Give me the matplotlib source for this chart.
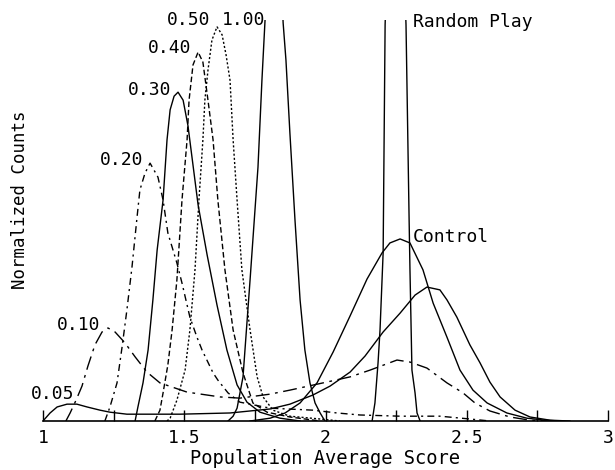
import matplotlib
matplotlib.use("Agg")
import matplotlib.pyplot as plt

# ---- data ----
x_005 = [1.000, 1.025, 1.050, 1.085, 1.120, 1.156, 1.202, 1.237, 1.297, 1.485, 1.662, 1.804, 1.874, 1.956,
         2.016, 2.087, 2.140, 2.204, 2.264, 2.317, 2.359, 2.405, 2.430, 2.465, 2.511, 2.547, 2.582, 2.618,
         2.671, 2.724, 2.795, 2.865]
y_005 = [0, 0.020, 0.035, 0.042, 0.042, 0.035, 0.027, 0.022, 0.017, 0.017, 0.020, 0.030, 0.042, 0.065,
         0.087, 0.122, 0.162, 0.222, 0.269, 0.314, 0.334, 0.327, 0.302, 0.259, 0.190, 0.145, 0.097, 0.060,
         0.027, 0.010, 0.002, 0]

x_010 = [1.081, 1.096, 1.117, 1.138, 1.159, 1.184, 1.209, 1.230, 1.255, 1.290, 1.326, 1.368, 1.414, 1.510,
         1.627, 1.697, 1.804, 1.874, 1.991, 2.087, 2.158, 2.253, 2.299, 2.359, 2.430, 2.487, 2.529, 2.582,
         2.653, 2.724, 2.795]
y_010 = [0, 0.020, 0.052, 0.087, 0.137, 0.190, 0.222, 0.232, 0.222, 0.195, 0.160, 0.122, 0.095, 0.072,
         0.060, 0.057, 0.067, 0.077, 0.095, 0.110, 0.127, 0.152, 0.147, 0.132, 0.095, 0.070, 0.045, 0.025,
         0.010, 0.002, 0]

x_020 = [1.219, 1.237, 1.262, 1.280, 1.297, 1.315, 1.333, 1.343, 1.361, 1.379, 1.407, 1.425, 1.442, 1.474,
         1.492, 1.520, 1.545, 1.563, 1.602, 1.619, 1.655, 1.697, 1.804, 1.956, 2.041, 2.122, 2.264, 2.405,
         2.511, 2.582]
y_020 = [0, 0.035, 0.095, 0.185, 0.277, 0.384, 0.509, 0.576, 0.618, 0.643, 0.608, 0.551, 0.469, 0.394,
         0.344, 0.259, 0.209, 0.177, 0.120, 0.102, 0.070, 0.047, 0.032, 0.027, 0.020, 0.015, 0.012, 0.012,
         0.005, 0]

x_030 = [1.326, 1.336, 1.354, 1.372, 1.389, 1.404, 1.425, 1.439, 1.450, 1.464, 1.478, 1.496, 1.513, 1.531,
         1.549, 1.581, 1.616, 1.651, 1.687, 1.722, 1.768, 1.839, 1.910]
y_030 = [0, 0.035, 0.095, 0.177, 0.302, 0.426, 0.551, 0.701, 0.776, 0.810, 0.820, 0.800, 0.737, 0.638,
         0.539, 0.414, 0.289, 0.177, 0.090, 0.047, 0.022, 0.007, 0]

x_040 = [1.396, 1.414, 1.425, 1.442, 1.457, 1.474, 1.492, 1.510, 1.517, 1.531, 1.549, 1.566, 1.584, 1.602,
         1.619, 1.644, 1.673, 1.708, 1.743, 1.793, 1.874, 1.980]
y_040 = [0, 0.027, 0.070, 0.140, 0.227, 0.352, 0.551, 0.701, 0.800, 0.888, 0.920, 0.895, 0.800, 0.701,
         0.551, 0.377, 0.227, 0.120, 0.045, 0.022, 0.010, 0]

x_050 = [1.439, 1.450, 1.474, 1.503, 1.520, 1.538, 1.552, 1.566, 1.573, 1.584, 1.598, 1.616, 1.634, 1.648,
         1.662, 1.673, 1.687, 1.704, 1.733, 1.758, 1.779, 1.814, 1.874, 1.980, 2.051]
y_050 = [0, 0.007, 0.052, 0.127, 0.227, 0.377, 0.551, 0.701, 0.800, 0.875, 0.950, 0.983, 0.963, 0.913,
         0.850, 0.701, 0.551, 0.377, 0.227, 0.110, 0.060, 0.027, 0.012, 0.005, 0]

x_100 = [1.655, 1.673, 1.687, 1.708, 1.733, 1.761, 1.775, 1.786, 1.818, 1.850, 1.860, 1.874, 1.892, 1.910,
         1.927, 1.945, 1.963, 1.981, 1.998]
y_100 = [0, 0.012, 0.032, 0.110, 0.352, 0.633, 0.850, 1.000, 1.55, 0.993, 0.900, 0.718, 0.501, 0.302,
         0.177, 0.095, 0.045, 0.020, 0]

x_random = [2.165, 2.175, 2.186, 2.193, 2.204, 2.211, 2.246, 2.285, 2.296, 2.299, 2.306, 2.317, 2.324, 2.335]
y_random = [0, 0.045, 0.145, 0.227, 0.419, 0.988, 1.75, 0.988, 0.501, 0.377, 0.127, 0.070, 0.020, 0]

x_control = [1.733, 1.804, 1.857, 1.910, 1.970, 2.027, 2.087, 2.147, 2.200, 2.228, 2.264, 2.299, 2.345,
             2.381, 2.430, 2.476, 2.522, 2.572, 2.642, 2.713, 2.777, 2.830]
y_control = [0, 0.007, 0.020, 0.045, 0.095, 0.172, 0.262, 0.354, 0.419, 0.444, 0.454, 0.444, 0.377,
             0.294, 0.209, 0.127, 0.077, 0.045, 0.020, 0.007, 0.002, 0]

curve_labels = ["0.05", "0.10", "0.20", "0.30", "0.40", "0.50", "1.00", "Random Play", "Control"]
label_x = [0.958, 1.050, 1.202, 1.301, 1.372, 1.439, 1.634, 2.310, 2.310]
label_y = [0.067, 0.239, 0.651, 0.825, 0.930, 1.000, 1.000, 0.995, 0.459]

xtick_pos = [1.0, 1.25, 1.5, 1.75, 2.0, 2.25, 2.5, 2.75, 3.0]
xtick_labels = ["1", "", "1.5", "", "2", "", "2.5", "", "3"]

# ---- figure ----
mono = "DejaVu Sans Mono"
fig = plt.figure(figsize=(6.15, 4.70), dpi=100)
ax = fig.add_axes([43 / 615, 49 / 470, 565 / 615, 401 / 470])

lw = 1.0
ax.plot(x_005, y_005, color="black", lw=lw, ls="-")
ax.plot(x_010, y_010, color="black", lw=lw, ls=(0, (10, 4, 2, 4)))
ax.plot(x_020, y_020, color="black", lw=lw, ls=(0, (5, 3, 1.5, 3)))
ax.plot(x_030, y_030, color="black", lw=lw, ls="-")
ax.plot(x_040, y_040, color="black", lw=lw, ls=(0, (4, 2)))
ax.plot(x_050, y_050, color="black", lw=lw, ls=(0, (1.5, 1.5)))
ax.plot(x_100, y_100, color="black", lw=lw, ls="-")
ax.plot(x_random, y_random, color="black", lw=lw, ls="-")
ax.plot(x_control, y_control, color="black", lw=lw, ls="-")

for t, lx, ly in zip(curve_labels, label_x, label_y):
    ax.text(lx, ly, t, fontsize=13, family=mono, ha="left", va="center",
            color="black", clip_on=False)

ax.set_xlim(1, 3)
ax.set_ylim(0, 1)
for s in ["left", "top", "right"]:
    ax.spines[s].set_visible(False)
ax.spines["bottom"].set_linewidth(1.2)
ax.set_yticks([])
ax.set_xticks(xtick_pos)
ax.set_xticklabels(xtick_labels, family=mono, fontsize=13)
ax.tick_params(axis="x", direction="in", length=8, width=1.0, pad=6)

ax.set_xlabel("Population Average Score", family=mono, fontsize=13.5, labelpad=1)
fig.text(20 / 615, 1 - 200 / 470, "Normalized Counts", family=mono, fontsize=12.5,
         rotation=90, ha="center", va="center")

fig.savefig("out.png", dpi=100)
